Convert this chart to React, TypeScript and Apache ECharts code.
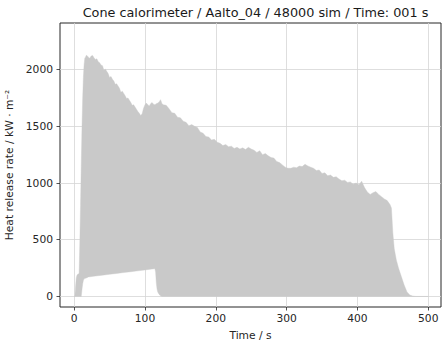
import React, { useEffect, useRef } from 'react';
import * as echarts from 'echarts';

const TITLE = 'Cone calorimeter / Aalto_04 / 48000 sim / Time: 001 s';
const X_NAME = 'Time / s';
const Y_NAME = 'Heat release rate / kW · m⁻²';

const xTicks = [0, 100, 200, 300, 400, 500];
const yTicks = [0, 500, 1000, 1500, 2000];

// Upper bound of the heat release rate band: [time s, kW/m²]
const upperCurve: [number, number][] = [
  [0, 0], [1, 5], [2, 90], [3, 165], [4, 188], [5, 195], [6, 198], [7, 205], [8, 480], [9, 800],
  [10, 1150], [11, 1480], [12, 1740], [13, 1930], [14, 2040], [15, 2100], [16, 2110], [17, 2125],
  [18, 2125], [20, 2110], [22, 2100], [24, 2120], [26, 2125], [28, 2105], [30, 2090], [32, 2095],
  [34, 2070], [36, 2060], [38, 2040], [40, 2035], [42, 1995], [44, 2005], [46, 1985], [48, 1965],
  [50, 1930], [52, 1940], [54, 1915], [56, 1900], [58, 1870], [60, 1875], [62, 1855], [64, 1835],
  [66, 1800], [68, 1810], [70, 1790], [72, 1770], [74, 1745], [76, 1750], [78, 1730], [80, 1710],
  [82, 1685], [84, 1690], [86, 1670], [88, 1650], [90, 1630], [92, 1615], [94, 1595], [96, 1610],
  [98, 1660], [100, 1690], [102, 1705], [104, 1690], [106, 1680], [108, 1700], [110, 1710], [112, 1695],
  [114, 1690], [116, 1700], [118, 1705], [120, 1715], [122, 1735], [124, 1700],
  [126, 1690], [130, 1685], [134, 1655], [138, 1620], [142, 1615], [146, 1580], [150, 1575], [154, 1545],
  [158, 1535], [162, 1505], [166, 1515], [170, 1500], [174, 1490], [178, 1450], [182, 1440], [186, 1410],
  [190, 1405], [194, 1380], [198, 1385], [202, 1360], [206, 1350], [210, 1330], [214, 1340], [218, 1320],
  [222, 1325], [226, 1305], [230, 1315], [234, 1300], [238, 1310], [242, 1295], [246, 1315], [250, 1300],
  [254, 1290], [258, 1270], [262, 1285], [266, 1250], [270, 1260], [274, 1240], [278, 1225], [282, 1220],
  [286, 1190], [290, 1180], [294, 1160], [298, 1140], [302, 1130], [306, 1130], [310, 1140], [314, 1135],
  [318, 1150], [322, 1145], [326, 1165], [330, 1150], [334, 1140], [338, 1130], [342, 1110], [346, 1115],
  [350, 1085], [354, 1090], [358, 1065], [362, 1070], [366, 1050], [370, 1055], [374, 1035], [378, 1020],
  [382, 1025], [386, 1005], [390, 1010], [394, 990], [398, 1000], [402, 985], [406, 1015], [410, 960],
  [414, 920], [418, 900], [422, 915], [426, 925], [430, 900], [434, 880], [438, 860], [442, 845],
  [446, 810], [448, 780], [450, 560], [452, 420], [455, 320], [458, 250], [462, 175], [466, 100],
  [470, 40], [474, 12], [478, 3], [482, 0], [500, 0],
];

// Lower bound of the band: [time s, kW/m²]
const lowerCurve: [number, number][] = [
  [0, 0], [10, 0], [11, 60], [12, 110], [13, 140], [14, 155], [16, 160], [18, 165], [20, 172],
  [30, 180], [40, 188], [50, 195], [60, 203], [70, 211], [80, 218], [90, 226], [100, 234],
  [110, 242], [114, 245], [115, 215], [116, 120], [117, 65], [118, 40], [120, 18], [122, 6],
  [124, 0], [500, 0],
];

const FONT = '"DejaVu Sans", sans-serif';
const INK = '#262626';
const FILL = '#c9c9c9';
const GRID = '#d6d6d6';

export default function App() {
  const ref = useRef<HTMLDivElement>(null);
  useEffect(() => {
    if (!ref.current) return;
    const chart = echarts.init(ref.current, undefined, { renderer: 'svg' });
    const renderItem = (params: any, api: any) => {
      if (params.dataIndex !== 0) return null;
      const pts: number[][] = [];
      for (let i = 0; i < upperCurve.length; i++) pts.push(api.coord(upperCurve[i]));
      for (let i = lowerCurve.length - 1; i >= 0; i--) pts.push(api.coord(lowerCurve[i]));
      return { type: 'polygon', shape: { points: pts }, style: { fill: FILL, stroke: FILL, lineWidth: 0.4 } };
    };
    const labelStyle = { fontFamily: FONT, fontSize: 10.7, color: INK };
    chart.setOption({
      animation: false,
      backgroundColor: '#ffffff',
      title: {
        text: TITLE,
        left: 250.5,
        top: 1,
        textAlign: 'center',
        textStyle: { fontFamily: FONT, fontSize: 12.8, fontWeight: 'normal', color: '#1a1a1a' },
      },
      grid: {
        left: 60, top: 23, right: 1, bottom: 35,
        outerBoundsMode: 'none', containLabel: false,
        show: true, borderColor: INK, borderWidth: 1, backgroundColor: 'transparent',
      },
      xAxis: {
        type: 'value', min: -20, max: 518,
        name: X_NAME, nameLocation: 'middle', nameGap: 23,
        nameTextStyle: labelStyle,
        axisLine: { show: false, onZero: false },
        axisTick: { show: true, length: 3.5, customValues: xTicks, lineStyle: { color: INK, width: 0.8 } },
        axisLabel: { customValues: xTicks, margin: 6, formatter: (v: number) => String(v), ...labelStyle },
        splitLine: { show: true, lineStyle: { color: GRID, width: 0.8 } },
      },
      yAxis: {
        type: 'value', min: -93, max: 2411,
        name: Y_NAME, nameLocation: 'middle', nameGap: 35, nameRotate: 90,
        nameTextStyle: labelStyle,
        axisLine: { show: false, onZero: false },
        axisTick: { show: true, length: 3.5, customValues: yTicks, lineStyle: { color: INK, width: 0.8 } },
        axisLabel: { customValues: yTicks, margin: 7, formatter: (v: number) => String(v), ...labelStyle },
        splitLine: { show: true, lineStyle: { color: GRID, width: 0.8 } },
      },
      series: [
        { type: 'custom', renderItem, data: upperCurve, silent: true, z: 2 },
      ],
    });
    return () => chart.dispose();
  }, []);
  return <div ref={ref} style={{ position: 'fixed', left: 0, top: 0, width: 442, height: 342 }} />;
}
